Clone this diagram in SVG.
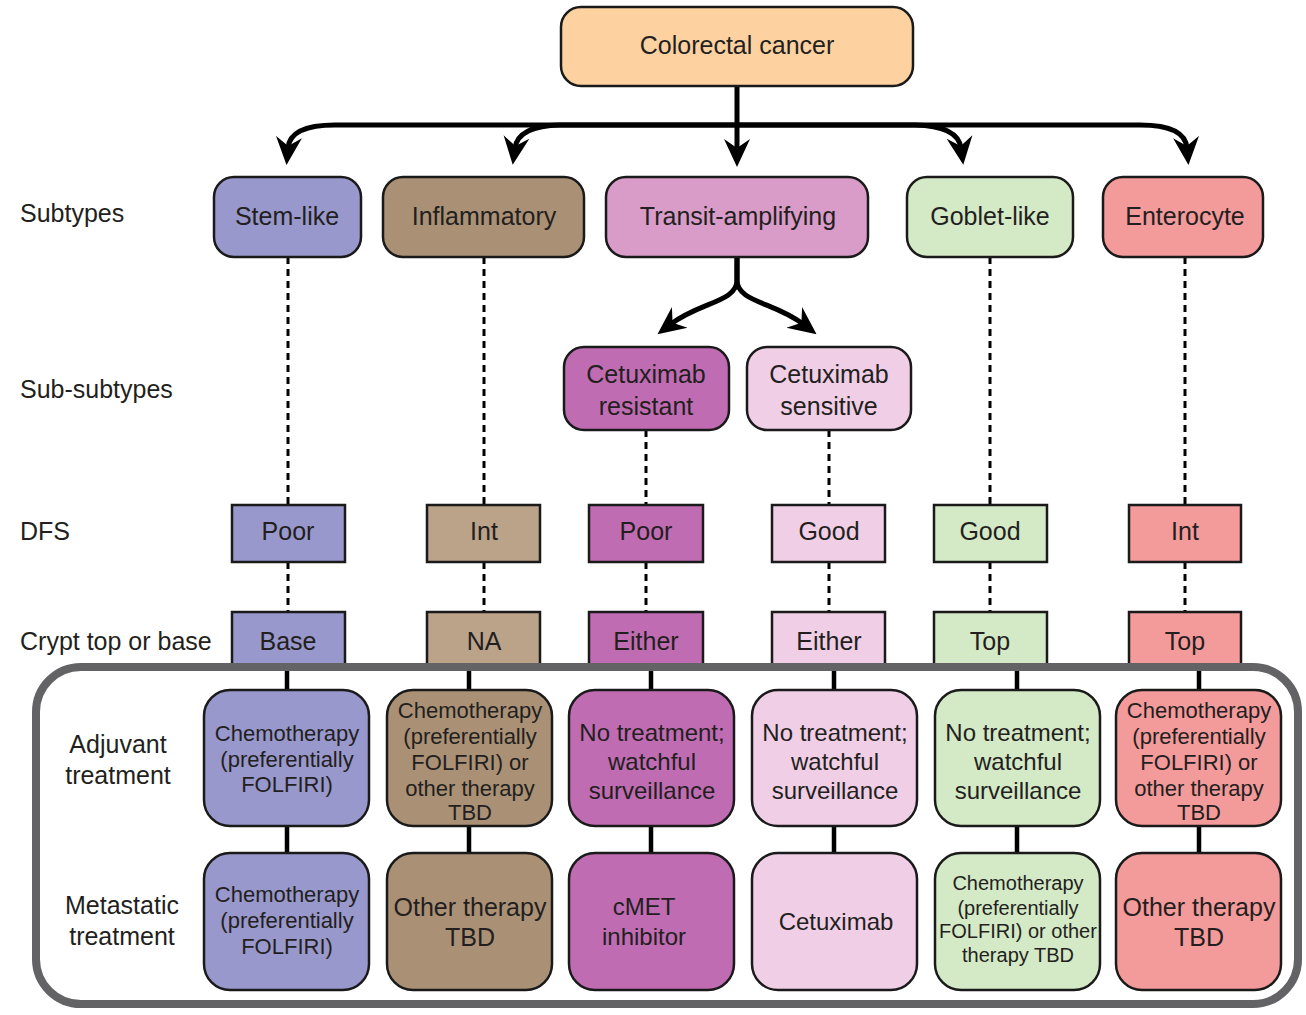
<svg xmlns="http://www.w3.org/2000/svg" width="1306" height="1015" viewBox="0 0 1306 1015">
<defs>
<style>
text{font-family:"Liberation Sans",Arial,sans-serif;fill:#231f20;text-anchor:middle}
.lbl{text-anchor:start;font-size:25px}
.lblc{font-size:25px}
.t25{font-size:25px}
.t24{font-size:24px}
.t22{font-size:22px}
.t20{font-size:20px}
.box{stroke:#1a1a1a;stroke-width:2.5}
.arrow{fill:none;stroke:#000;stroke-width:5}
.dot{fill:none;stroke:#000;stroke-width:3;stroke-dasharray:7 5}
.solid{fill:none;stroke:#000;stroke-width:4.5}
.frame{fill:#fff;stroke:#636366;stroke-width:8}
.c0{fill:#fdd1a0}.c1{fill:#9898cc}.c2{fill:#aa9175}.c2b{fill:#bba38a}.c3{fill:#d99cc9}.c3a{fill:#c06cb3}.c3b{fill:#f0cfe6}.c4{fill:#d4e9c6}.c5{fill:#f39a9b}
</style>
<marker id="ah" markerUnits="userSpaceOnUse" viewBox="0 -14 28 28" markerWidth="28" markerHeight="28" refX="11" refY="0" orient="auto">
<path d="M28,0 L0,-13 L9,0 L0,13 Z" fill="#000"/>
</marker>
</defs>

<!-- row labels -->
<g id="row-labels">
<text class="lbl" x="20" y="222">Subtypes</text>
<text class="lbl" x="20" y="398">Sub-subtypes</text>
<text class="lbl" x="20" y="540">DFS</text>
<text class="lbl" x="20" y="650">Crypt top or base</text>
</g>

<!-- connectors (upper) -->
<g id="connectors-upper">
<path class="arrow" d="M737,86 V150" marker-end="url(#ah)"/>
<path class="arrow" d="M737,125 H335 Q290,125 288,148" marker-end="url(#ah)"/>
<path class="arrow" d="M737,125 H560 Q518,126 515,148" marker-end="url(#ah)"/>
<path class="arrow" d="M737,125 H915 Q958,126 961,148" marker-end="url(#ah)"/>
<path class="arrow" d="M737,125 H1140 Q1185,125 1187,148" marker-end="url(#ah)"/>
<path class="arrow" d="M737,257 V280 C737,302 700,302 671,324" marker-end="url(#ah)"/>
<path class="arrow" d="M737,257 V280 C737,302 774,302 803,324" marker-end="url(#ah)"/>
<path class="dot" d="M288,257 V505 M484,257 V505 M990,257 V505 M1185,257 V505 M646,430 V505 M829,430 V505"/>
<path class="dot" d="M288,562 V612 M484,562 V612 M646,562 V612 M829,562 V612 M990,562 V612 M1185,562 V612"/>
</g>

<g id="n-colorectal"><rect class="box c0" x="561" y="7" width="352" height="79" rx="20"/><text class="t25" x="737" y="54">Colorectal cancer</text></g>

<g id="n-stem"><rect class="box c1" x="214" y="177" width="147" height="80" rx="20"/><text class="t25" x="287" y="225">Stem-like</text></g>
<g id="n-inflam"><rect class="box c2" x="383" y="177" width="201" height="80" rx="20"/><text class="t25" x="484" y="225">Inflammatory</text></g>
<g id="n-transit"><rect class="box c3" x="606" y="177" width="262" height="80" rx="20"/><text class="t25" x="738" y="225">Transit-amplifying</text></g>
<g id="n-goblet"><rect class="box c4" x="907" y="177" width="166" height="80" rx="20"/><text class="t25" x="990" y="225">Goblet-like</text></g>
<g id="n-entero"><rect class="box c5" x="1103" y="177" width="160" height="80" rx="20"/><text class="t25" x="1185" y="225">Enterocyte</text></g>

<g id="n-cetux-res"><rect class="box c3a" x="564" y="347" width="165" height="83" rx="20"/><text class="t25" x="646" y="383">Cetuximab</text><text class="t25" x="646" y="415">resistant</text></g>
<g id="n-cetux-sens"><rect class="box c3b" x="747" y="347" width="164" height="83" rx="20"/><text class="t25" x="829" y="383">Cetuximab</text><text class="t25" x="829" y="415">sensitive</text></g>

<g id="dfs-1"><rect class="box c1" x="232" y="505" width="113" height="57"/><text class="t25" x="288" y="540">Poor</text></g>
<g id="dfs-2"><rect class="box c2b" x="427" y="505" width="113" height="57"/><text class="t25" x="484" y="540">Int</text></g>
<g id="dfs-3"><rect class="box c3a" x="589" y="505" width="114" height="57"/><text class="t25" x="646" y="540">Poor</text></g>
<g id="dfs-4"><rect class="box c3b" x="772" y="505" width="113" height="57"/><text class="t25" x="829" y="540">Good</text></g>
<g id="dfs-5"><rect class="box c4" x="934" y="505" width="113" height="57"/><text class="t25" x="990" y="540">Good</text></g>
<g id="dfs-6"><rect class="box c5" x="1129" y="505" width="112" height="57"/><text class="t25" x="1185" y="540">Int</text></g>

<g id="crypt-1"><rect class="box c1" x="232" y="612" width="113" height="60"/><text class="t25" x="288" y="650">Base</text></g>
<g id="crypt-2"><rect class="box c2b" x="427" y="612" width="113" height="60"/><text class="t25" x="484" y="650">NA</text></g>
<g id="crypt-3"><rect class="box c3a" x="589" y="612" width="114" height="60"/><text class="t25" x="646" y="650">Either</text></g>
<g id="crypt-4"><rect class="box c3b" x="772" y="612" width="113" height="60"/><text class="t25" x="829" y="650">Either</text></g>
<g id="crypt-5"><rect class="box c4" x="934" y="612" width="113" height="60"/><text class="t25" x="990" y="650">Top</text></g>
<g id="crypt-6"><rect class="box c5" x="1129" y="612" width="112" height="60"/><text class="t25" x="1185" y="650">Top</text></g>

<g id="treatment-frame"><rect class="frame" x="36" y="667" width="1262" height="337" rx="45"/></g>

<g id="frame-labels">
<text class="lblc" x="118" y="753">Adjuvant</text>
<text class="lblc" x="118" y="784">treatment</text>
<text class="lblc" x="122" y="914">Metastatic</text>
<text class="lblc" x="122" y="945">treatment</text>
</g>

<g id="connectors-lower">
<path class="solid" d="M287,671 V690 M469,671 V690 M651,671 V690 M834,671 V690 M1017,671 V690 M1199,671 V690"/>
<path class="solid" d="M287,826 V853 M469,826 V853 M651,826 V853 M834,826 V853 M1017,826 V853 M1199,826 V853"/>
</g>

<g id="adj-1"><rect class="box c1" x="204" y="690" width="165" height="136" rx="26"/><text class="t22" x="287" y="741">Chemotherapy</text><text class="t22" x="287" y="767">(preferentially</text><text class="t22" x="287" y="792">FOLFIRI)</text></g>
<g id="adj-2"><rect class="box c2" x="387" y="690" width="165" height="136" rx="26"/><text class="t22" x="470" y="718">Chemotherapy</text><text class="t22" x="470" y="744">(preferentially</text><text class="t22" x="470" y="770">FOLFIRI) or</text><text class="t22" x="470" y="796">other therapy</text><text class="t22" x="470" y="820">TBD</text></g>
<g id="adj-3"><rect class="box c3a" x="569" y="690" width="165" height="136" rx="26"/><text class="t24" x="652" y="741">No treatment;</text><text class="t24" x="652" y="770">watchful</text><text class="t24" x="652" y="799">surveillance</text></g>
<g id="adj-4"><rect class="box c3b" x="752" y="690" width="165" height="136" rx="26"/><text class="t24" x="835" y="741">No treatment;</text><text class="t24" x="835" y="770">watchful</text><text class="t24" x="835" y="799">surveillance</text></g>
<g id="adj-5"><rect class="box c4" x="935" y="690" width="165" height="136" rx="26"/><text class="t24" x="1018" y="741">No treatment;</text><text class="t24" x="1018" y="770">watchful</text><text class="t24" x="1018" y="799">surveillance</text></g>
<g id="adj-6"><rect class="box c5" x="1116" y="690" width="165" height="136" rx="26"/><text class="t22" x="1199" y="718">Chemotherapy</text><text class="t22" x="1199" y="744">(preferentially</text><text class="t22" x="1199" y="770">FOLFIRI) or</text><text class="t22" x="1199" y="796">other therapy</text><text class="t22" x="1199" y="820">TBD</text></g>

<g id="met-1"><rect class="box c1" x="204" y="853" width="165" height="137" rx="26"/><text class="t22" x="287" y="902">Chemotherapy</text><text class="t22" x="287" y="928">(preferentially</text><text class="t22" x="287" y="954">FOLFIRI)</text></g>
<g id="met-2"><rect class="box c2" x="387" y="853" width="165" height="137" rx="26"/><text class="t25" x="470" y="916">Other therapy</text><text class="t25" x="470" y="946">TBD</text></g>
<g id="met-3"><rect class="box c3a" x="569" y="853" width="165" height="137" rx="26"/><text class="t24" x="644" y="915">cMET</text><text class="t24" x="644" y="945">inhibitor</text></g>
<g id="met-4"><rect class="box c3b" x="752" y="853" width="165" height="137" rx="26"/><text class="t24" x="836" y="930">Cetuximab</text></g>
<g id="met-5"><rect class="box c4" x="935" y="853" width="165" height="137" rx="26"/><text class="t20" x="1018" y="890">Chemotherapy</text><text class="t20" x="1018" y="915">(preferentially</text><text class="t20" x="1018" y="938">FOLFIRI) or other</text><text class="t20" x="1018" y="962">therapy TBD</text></g>
<g id="met-6"><rect class="box c5" x="1116" y="853" width="165" height="137" rx="26"/><text class="t25" x="1199" y="916">Other therapy</text><text class="t25" x="1199" y="946">TBD</text></g>
</svg>
